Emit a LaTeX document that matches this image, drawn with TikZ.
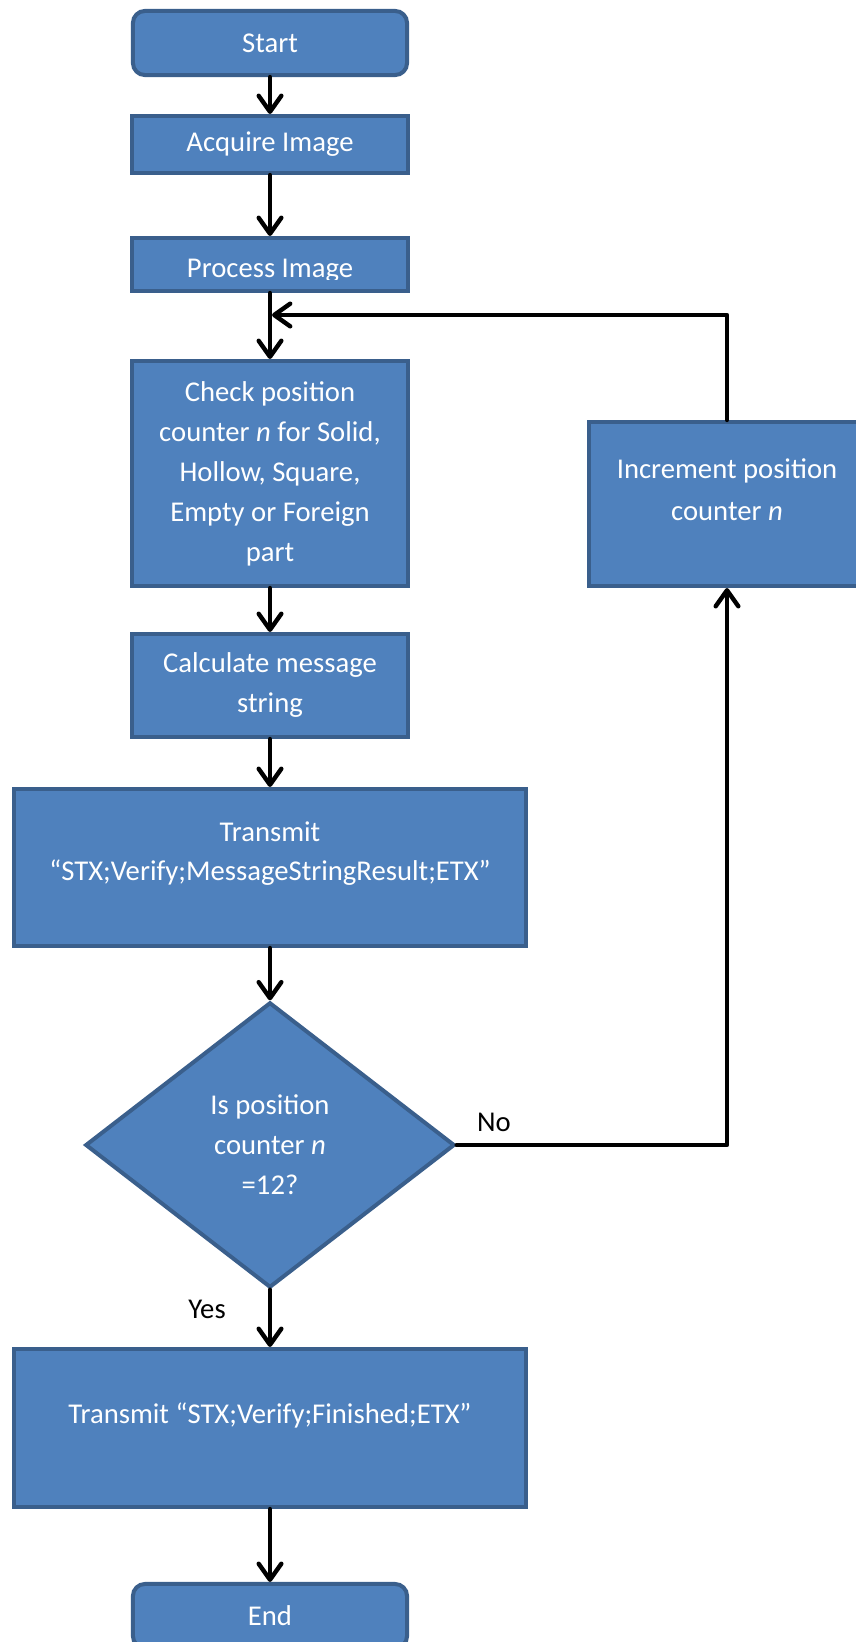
\documentclass[tikz,border=0pt]{standalone}
\usepackage{fontspec}
\setmainfont{Carlito}
\usetikzlibrary{arrows.meta,shapes.geometric}
\definecolor{boxfill}{HTML}{4F81BD}
\definecolor{boxline}{HTML}{3A5F8C}

\begin{document}
\begin{tikzpicture}[x=0.75pt,y=-0.75pt,
  every node/.style={font=\fontsize{21.5}{30}\selectfont},
  procbox/.style={draw=boxline, line width=3pt, fill=boxfill, text=white,
    align=center, inner sep=0pt},
  termbox/.style={procbox, rounded corners=9pt},
  decbox/.style={procbox, diamond},
  boxtext/.style={text=white, inner sep=0pt, anchor=base},
  flow/.style={line width=3.3pt, line cap=round, line join=round,
    -{Straight Barb[length=12pt,width=17pt,line cap=round,line join=round]}},
  flowlabel/.style={text=black, inner sep=0pt}
]
\useasboundingbox (0,0) rectangle (856,1642);

% main column
\node[termbox, minimum width=205.6pt, minimum height=48.1pt] (start) at (270,43) {Start};
\node[procbox, minimum width=206.3pt, minimum height=42.8pt] (acq) at (270,144.5) {Acquire Image};
\node[procbox, minimum width=206.3pt, minimum height=39.8pt] (proc) at (270,264.5) {};
\begin{scope}
  \clip (131,236) rectangle (410,279);
  \node[boxtext] (proctext) at (270,277) {Process Image};
\end{scope}
\node[procbox, minimum width=206.3pt, minimum height=168.8pt] (check) at (270,473.5)
  {Check position\\counter \textit{n} for Solid,\\Hollow, Square,\\Empty or Foreign\\part};
\node[procbox, minimum width=206.3pt, minimum height=77.3pt] (calc) at (270,685.5)
  {Calculate message\\string};
\node[procbox, minimum width=384.1pt, minimum height=117.8pt] (tx1) at (270,867.5) {};
\node[boxtext] (tx1a) at (270,841) {Transmit};
\node[boxtext] (tx1b) at (270,880) {“STX;Verify;MessageStringResult;ETX”};
\node[decbox, minimum width=277pt, minimum height=214pt] (dec) at (270,1145)
  {Is position\\counter \textit{n}\\=12?};
\node[procbox, minimum width=384.1pt, minimum height=118.6pt] (tx2) at (270,1428) {};
\node[boxtext] (tx2a) at (270,1423) {Transmit “STX;Verify;Finished;ETX”};
\node[termbox, minimum width=205.6pt, minimum height=48.1pt] (end) at (270,1616) {End};

% loop-back column
\node[procbox, minimum width=207.1pt, minimum height=123.1pt] (inc) at (727,504) {};
\node[boxtext] (inca) at (727,478) {Increment position};
\node[boxtext] (incb) at (727,520) {counter \textit{n}};

% connectors
\coordinate (join) at (272,315);
\draw[flow] (start.south) -- (acq.north);
\draw[flow] (acq.south) -- (proc.north);
\draw[flow] (proc.south) -- (check.north);
\draw[flow] (check.south) -- (calc.north);
\draw[flow] (calc.south) -- (tx1.north);
\draw[flow] (tx1.south) -- (dec.north);
\draw[flow] (dec.south) -- (tx2.north);
\draw[flow] (tx2.south) -- (end.north);
\draw[flow] (dec.east) -| (inc.south);
\draw[flow] (inc.north) |- (join);

\node[flowlabel] (nolabel) at (494,1122) {No};
\node[flowlabel] (yeslabel) at (207,1309) {Yes};
\end{tikzpicture}
\end{document}
